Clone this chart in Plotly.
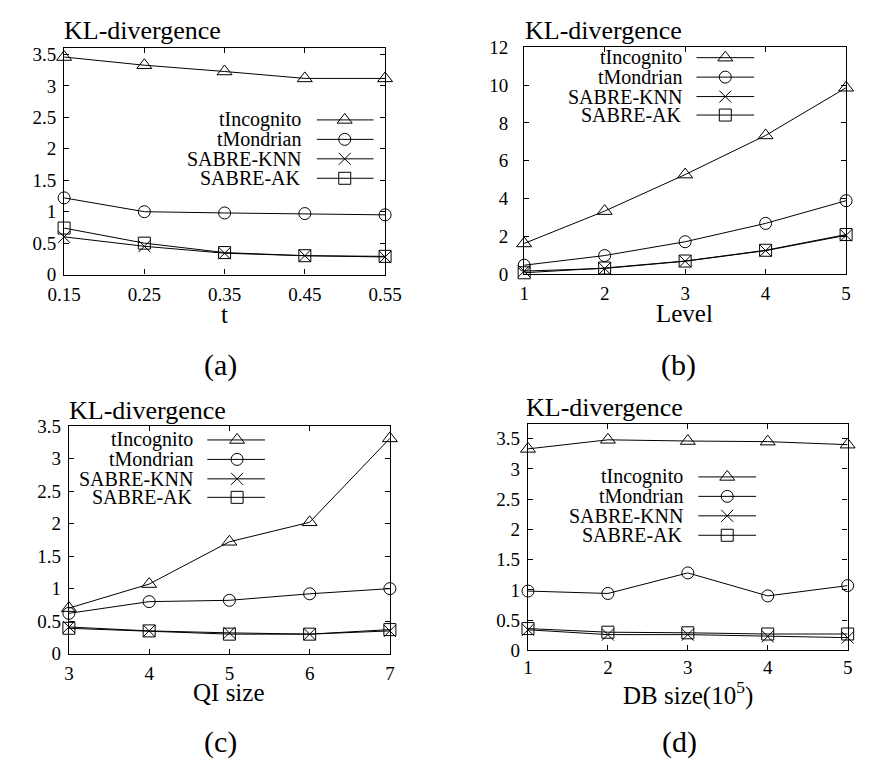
import plotly.graph_objects as go

W, H = 873, 770
FONT = "Liberation Serif, Times New Roman, serif"

series_names = ["tIncognito", "tMondrian", "SABRE-KNN", "SABRE-AK"]
symbols = ["triangle-up-open", "circle-open", "x-thin-open", "square-open"]
msizes = [13, 12, 12, 12]

# (a) t
t_vals = [0.15, 0.25, 0.35, 0.45, 0.55]
a_tinc = [3.46, 3.33, 3.23, 3.12, 3.12]
a_tmon = [1.22, 1.00, 0.98, 0.97, 0.95]
a_knn = [0.60, 0.45, 0.34, 0.30, 0.28]
a_ak = [0.74, 0.50, 0.35, 0.30, 0.29]

# (b) Level
level_vals = [1, 2, 3, 4, 5]
b_tinc = [1.63, 3.34, 5.27, 7.34, 9.86]
b_tmon = [0.48, 0.99, 1.72, 2.69, 3.89]
b_knn = [0.17, 0.31, 0.69, 1.25, 2.06]
b_ak = [0.08, 0.33, 0.70, 1.27, 2.10]

# (c) QI size
qi_vals = [3, 4, 5, 6, 7]
c_tinc = [0.70, 1.07, 1.72, 2.02, 3.31]
c_tmon = [0.62, 0.80, 0.82, 0.92, 1.00]
c_knn = [0.41, 0.35, 0.32, 0.30, 0.35]
c_ak = [0.39, 0.35, 0.30, 0.30, 0.37]

# (d) DB size
db_vals = [1, 2, 3, 4, 5]
d_tinc = [3.33, 3.48, 3.46, 3.45, 3.40]
d_tmon = [0.98, 0.94, 1.28, 0.90, 1.07]
d_knn = [0.34, 0.26, 0.26, 0.23, 0.21]
d_ak = [0.36, 0.30, 0.29, 0.27, 0.27]

a_xticks = [0.15, 0.25, 0.35, 0.45, 0.55]
a_yticks = [0, 0.5, 1, 1.5, 2, 2.5, 3, 3.5]
b_yticks = [0, 2, 4, 6, 8, 10, 12]
cd_yticks = [0, 0.5, 1, 1.5, 2, 2.5, 3, 3.5]
int_ticks = [1, 2, 3, 4, 5]
qi_ticks = [3, 4, 5, 6, 7]

panels = [
    dict(x=t_vals, ys=[a_tinc, a_tmon, a_knn, a_ak], xr=[0.15, 0.55], yr=[0, 3.6],
         xt=a_xticks, xtt=["0.15", "0.25", "0.35", "0.45", "0.55"], yt=a_yticks,
         ytt=["0", "0.5", "1", "1.5", "2", "2.5", "3", "3.5"],
         box=(49, 383, 39.3, 272), ystand=3, xstand=2,
         title_pos=(47, 21.5), xlabel="t", xlabel_pos=(216, 313), sub="(a)", sub_pos=(212, 365),
         leg=dict(tx=298, l0=312, l1=371, m=341, rows=[113, 133, 153, 173])),
    dict(x=level_vals, ys=[b_tinc, b_tmon, b_knn, b_ak], xr=[1, 5], yr=[0, 12],
         xt=int_ticks, xtt=[str(v) for v in int_ticks], yt=b_yticks,
         ytt=[str(v) for v in b_yticks],
         box=(527.7, 862.7, 38.3, 271.7), ystand=11, xstand=2,
         title_pos=(526, 21), xlabel="Level", xlabel_pos=(695, 312), sub="(b)", sub_pos=(688, 365),
         leg=dict(tx=694, l0=707, l1=767, m=737, rows=[49, 69, 89, 108])),
    dict(x=qi_vals, ys=[c_tinc, c_tmon, c_knn, c_ak], xr=[3, 7], yr=[0, 3.5],
         xt=qi_ticks, xtt=[str(v) for v in qi_ticks], yt=cd_yticks,
         ytt=["0", "0.5", "1", "1.5", "2", "2.5", "3", "3.5"],
         box=(54, 388, 427.7, 661.7), ystand=3, xstand=2,
         title_pos=(52, 412), xlabel="QI size", xlabel_pos=(221, 702), sub="(c)", sub_pos=(212, 753),
         leg=dict(tx=185, l0=198, l1=258, m=229, rows=[442, 462, 482, 501])),
    dict(x=db_vals, ys=[d_tinc, d_tmon, d_knn, d_ak], xr=[1, 5], yr=[0, 3.74],
         xt=int_ticks, xtt=[str(v) for v in int_ticks], yt=cd_yticks,
         ytt=["0", "0.5", "1", "1.5", "2", "2.5", "3", "3.5"],
         box=(531.7, 864.3, 425.7, 658.3), ystand=3, xstand=0,
         title_pos=(528, 409), xlabel="DB size(10<sup>5</sup>)", xlabel_pos=(698, 703), sub="(d)",
         sub_pos=(689, 753),
         leg=dict(tx=695, l0=709, l1=769, m=739, rows=[480, 500, 520, 540])),
]

fig = go.Figure()
annotations = []
layout = {}


def px(x):
    return x / W


def py(y):
    return 1 - y / H


for i, p in enumerate(panels, start=1):
    xa = "x" if i == 1 else f"x{i}"
    ya = "y" if i == 1 else f"y{i}"
    xk = "xaxis" if i == 1 else f"xaxis{i}"
    yk = "yaxis" if i == 1 else f"yaxis{i}"
    x0, x1, y0, y1 = p["box"]
    for name, ys, sym, ms in zip(series_names, p["ys"], symbols, msizes):
        fig.add_trace(go.Scatter(
            x=p["x"], y=ys, xaxis=xa, yaxis=ya, mode="lines+markers", name=name,
            showlegend=False, cliponaxis=False,
            line=dict(color="black", width=1),
            marker=dict(symbol=sym, size=ms, color="black", line=dict(color="black", width=1)),
        ))
    common = dict(showline=True, mirror="ticks", linecolor="black", linewidth=1.3,
                  ticks="inside", ticklen=5, tickcolor="black", tickwidth=1,
                  showgrid=False, zeroline=False,
                  tickfont=dict(family=FONT, size=19, color="black"))
    layout[xk] = dict(domain=[px(x0), px(x1)], range=p["xr"], anchor=ya,
                      tickmode="array", tickvals=p["xt"], ticktext=p["xtt"],
                      ticklabelstandoff=p["xstand"], **common)
    layout[yk] = dict(domain=[py(y1), py(y0)], range=p["yr"], anchor=xa,
                      tickmode="array", tickvals=p["yt"], ticktext=p["ytt"],
                      ticklabelstandoff=p["ystand"], **common)
    tx, ty = p["title_pos"]
    annotations.append(dict(text="KL-divergence", x=px(tx), y=py(ty), xref="paper", yref="paper",
                            xanchor="left", yanchor="middle", showarrow=False,
                            font=dict(family=FONT, size=26, color="black")))
    lx, ly = p["xlabel_pos"]
    annotations.append(dict(text=p["xlabel"], x=px(lx), y=py(ly), xref="paper", yref="paper",
                            xanchor="center", yanchor="middle", showarrow=False,
                            font=dict(family=FONT, size=25, color="black")))
    sx, sy = p["sub_pos"]
    annotations.append(dict(text=p["sub"], x=px(sx), y=py(sy), xref="paper", yref="paper",
                            xanchor="center", yanchor="middle", showarrow=False,
                            font=dict(family=FONT, size=30, color="black")))
    lg = p["leg"]
    for name, sym, ms, ry in zip(series_names, symbols, msizes, lg["rows"]):
        annotations.append(dict(text=name, x=px(lg["tx"]), y=py(ry), xref="paper", yref="paper",
                                xanchor="right", yanchor="middle", showarrow=False,
                                font=dict(family=FONT, size=20, color="black")))
        fig.add_trace(go.Scatter(x=[lg["l0"], lg["l1"]], y=[ry, ry], xaxis="x5", yaxis="y5",
                                 mode="lines", showlegend=False, cliponaxis=False,
                                 line=dict(color="black", width=1), hoverinfo="skip"))
        fig.add_trace(go.Scatter(x=[lg["m"]], y=[ry], xaxis="x5", yaxis="y5",
                                 mode="markers", showlegend=False, cliponaxis=False,
                                 marker=dict(symbol=sym, size=ms, color="black",
                                             line=dict(color="black", width=1)),
                                 hoverinfo="skip"))

layout["xaxis5"] = dict(domain=[0, 1], range=[0, W], visible=False, anchor="y5")
layout["yaxis5"] = dict(domain=[0, 1], range=[H, 0], visible=False, anchor="x5")

fig.update_layout(
    width=W, height=H, margin=dict(l=0, r=0, t=0, b=0),
    paper_bgcolor="white", plot_bgcolor="rgba(0,0,0,0)",
    showlegend=False, annotations=annotations, **layout,
)

fig.write_html("out.html")
